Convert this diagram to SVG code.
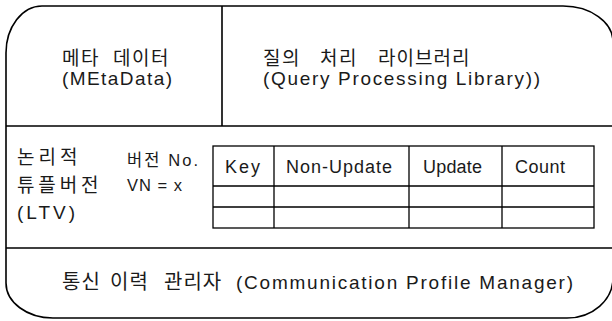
<svg xmlns="http://www.w3.org/2000/svg" width="612" height="321" viewBox="0 0 612 321">
<style>
.ln{fill:none;stroke:#000;stroke-width:1.6}
.tb{fill:none;stroke:#000;stroke-width:1.3}
text{font-family:"Liberation Sans","Noto Sans CJK KR",sans-serif;font-size:19px;fill:#1a1a1a}
.ko{font-size:19px;letter-spacing:1.5px}
.sm{font-size:16.5px}
.hd{font-size:18px}
</style>
<rect width="612" height="321" fill="#fff"/>
<g id="frame">
<path class="ln" d="M 42,6 H 563 A 50,36 0 0 1 613,42 V 278 A 46,40 0 0 1 567,318 H 53 A 47,35 0 0 1 6,283 V 53 A 36,47 0 0 1 42,6 Z"/>
<path class="ln" d="M 6,126 H 613 M 222,6 V 126 M 6,248 H 613"/>
</g>
<g id="metadata">
<text class="ko" y="65"><tspan x="62">메타</tspan><tspan x="113">데이터</tspan></text>
<text x="62" y="85" textLength="110" lengthAdjust="spacing">(MEtaData)</text>
</g>
<g id="query-library">
<text class="ko" y="65"><tspan x="263">질의</tspan><tspan x="320">처리</tspan><tspan x="378" textLength="93" lengthAdjust="spacing">라이브러리</tspan></text>
<text x="263" y="85" textLength="277" lengthAdjust="spacing">(Query Processing Library))</text>
</g>
<g id="ltv">
<text class="ko" x="17" y="164" textLength="62" lengthAdjust="spacing">논리적</text>
<text class="ko" x="17" y="192" textLength="83" lengthAdjust="spacing">튜플버전</text>
<text x="17" y="219" textLength="58" lengthAdjust="spacing">(LTV)</text>
</g>
<g id="version">
<text class="sm" x="127" y="166" textLength="71" lengthAdjust="spacing">버전 No.</text>
<text class="sm" x="127" y="191" textLength="55" lengthAdjust="spacing">VN = x</text>
</g>
<g id="tuple-table">
<rect class="tb" x="213" y="146" width="381" height="82"/>
<path class="tb" d="M 213,186 H 594 M 213,207 H 594 M 274,146 V 228 M 409,146 V 228 M 502,146 V 228"/>
<text class="hd" x="225" y="173" textLength="35" lengthAdjust="spacing">Key</text>
<text class="hd" x="286" y="173" textLength="106" lengthAdjust="spacing">Non-Update</text>
<text class="hd" x="423" y="173" textLength="59" lengthAdjust="spacing">Update</text>
<text class="hd" x="515" y="173" textLength="50" lengthAdjust="spacing">Count</text>
</g>
<g id="comm-profile-manager">
<text y="289"><tspan class="ko" x="62" style="font-size:20px;letter-spacing:1px">통신</tspan><tspan class="ko" x="110" style="font-size:20px;letter-spacing:1px">이력</tspan><tspan class="ko" x="164" style="font-size:20px;letter-spacing:1px">관리자</tspan><tspan x="236" textLength="337" lengthAdjust="spacing">(Communication Profile Manager)</tspan></text>
</g>
</svg>
